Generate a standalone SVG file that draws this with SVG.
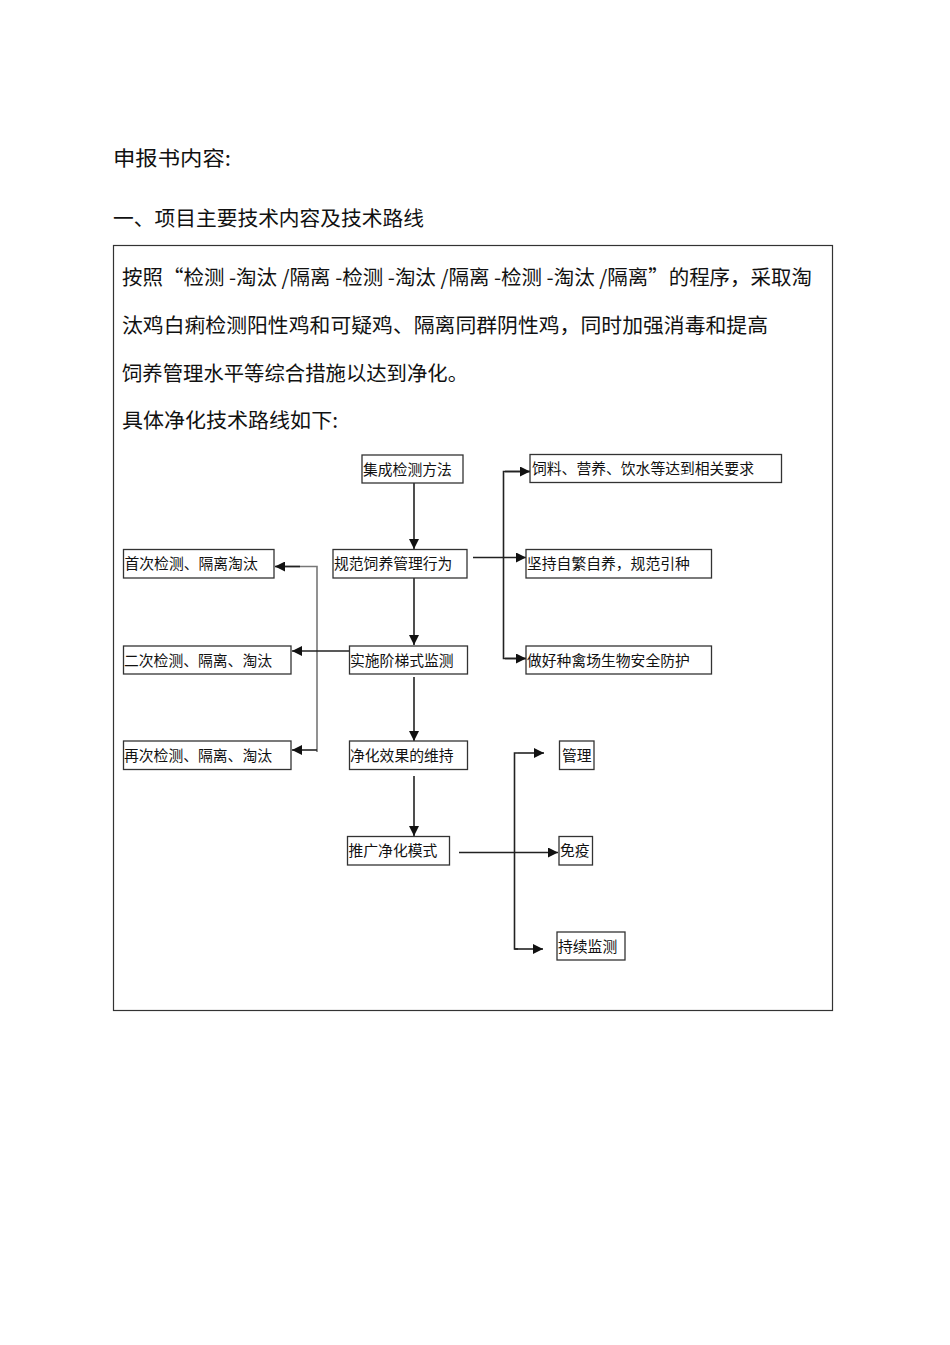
<svg xmlns="http://www.w3.org/2000/svg" width="950" height="1345" viewBox="0 0 950 1345">
<style>
.t{font-family:"Noto Sans CJK SC","Noto Sans",sans-serif;font-size:20.5px;fill:#111}
.b{font-family:"Noto Sans CJK SC","Noto Sans",sans-serif;font-size:14.8px;fill:#111}
.box{fill:#fff;stroke:#333;stroke-width:1.3}
.c{fill:none;stroke:#222;stroke-width:1.6}
.g{fill:none;stroke:#777;stroke-width:1.6}
</style>
<defs>
<marker id="ah" viewBox="0 0 10 10" refX="10" refY="5" markerUnits="userSpaceOnUse" markerWidth="10" markerHeight="10" orient="auto">
<path d="M0,0 L10,5 L0,10 z" fill="#111"/>
</marker>
</defs>
<rect width="950" height="1345" fill="#fff"/>
<g id="header">
<text class="t" x="113" y="166" textLength="118" lengthAdjust="spacingAndGlyphs">申报书内容:</text>
<text class="t" x="113" y="226" textLength="311" lengthAdjust="spacingAndGlyphs">一、项目主要技术内容及技术路线</text>
</g>
<rect id="frame" x="113.5" y="245.5" width="719" height="765" fill="none" stroke="#333" stroke-width="1.2"/>
<g id="paragraph">
<text class="t" x="122" y="285" textLength="690" lengthAdjust="spacingAndGlyphs">按照“检测 -淘汰 /隔离 -检测 -淘汰 /隔离 -检测 -淘汰 /隔离”的程序，采取淘</text>
<text class="t" x="122" y="333" textLength="646" lengthAdjust="spacingAndGlyphs">汰鸡白痢检测阳性鸡和可疑鸡、隔离同群阴性鸡，同时加强消毒和提高</text>
<text class="t" x="122" y="381" textLength="346" lengthAdjust="spacingAndGlyphs">饲养管理水平等综合措施以达到净化。</text>
<text class="t" x="122" y="428" textLength="216" lengthAdjust="spacingAndGlyphs">具体净化技术路线如下:</text>
</g>
<g id="connectors">
<line class="c" x1="414" y1="482" x2="414" y2="549" marker-end="url(#ah)"/>
<line class="c" x1="414" y1="578" x2="414" y2="645" marker-end="url(#ah)"/>
<line class="c" x1="414" y1="677" x2="414" y2="741" marker-end="url(#ah)"/>
<line class="c" x1="414" y1="776" x2="414" y2="836" marker-end="url(#ah)"/>
<polyline class="g" points="317,752 317,566.5 276,566.5"/>
<line class="c" x1="300" y1="566.5" x2="275" y2="566.5" marker-end="url(#ah)"/>
<line class="c" x1="349" y1="651" x2="292" y2="651" marker-end="url(#ah)"/>
<line class="c" x1="317" y1="750" x2="292" y2="750" marker-end="url(#ah)"/>
<line class="c" x1="473" y1="557.5" x2="526" y2="557.5" marker-end="url(#ah)"/>
<polyline class="c" points="530,471.5 503.5,471.5 503.5,658.5 526,658.5"/>
<line class="c" x1="505" y1="471.5" x2="530" y2="471.5" marker-end="url(#ah)"/>
<line class="c" x1="505" y1="658.5" x2="526" y2="658.5" marker-end="url(#ah)"/>
<line class="c" x1="459" y1="852.5" x2="558" y2="852.5" marker-end="url(#ah)"/>
<polyline class="c" points="518,753 514.5,753 514.5,949 518,949"/>
<line class="c" x1="518" y1="753" x2="544" y2="753" marker-end="url(#ah)"/>
<line class="c" x1="514.5" y1="949" x2="543" y2="949" marker-end="url(#ah)"/>
</g>
<g id="n1"><rect class="box" x="362" y="455" width="101" height="28"/><text class="b" x="363" y="474.5">集成检测方法</text></g>
<g id="n2"><rect class="box" x="333" y="549.5" width="134" height="28.5"/><text class="b" x="334" y="569">规范饲养管理行为</text></g>
<g id="n3"><rect class="box" x="123.5" y="549.5" width="150.5" height="28.5"/><text class="b" x="124.5" y="569">首次检测、隔离淘汰</text></g>
<g id="n4"><rect class="box" x="530" y="454.5" width="251.5" height="28"/><text class="b" x="532" y="474">饲料、营养、饮水等达到相关要求</text></g>
<g id="n5"><rect class="box" x="526" y="549.5" width="185.5" height="28.5"/><text class="b" x="527" y="569">坚持自繁自养，规范引种</text></g>
<g id="n6"><rect class="box" x="526" y="646" width="185.5" height="28"/><text class="b" x="527" y="665.5">做好种禽场生物安全防护</text></g>
<g id="n7"><rect class="box" x="349.5" y="646" width="118" height="28"/><text class="b" x="350" y="665.5">实施阶梯式监测</text></g>
<g id="n8"><rect class="box" x="123.5" y="646" width="167.5" height="28"/><text class="b" x="124" y="665.5">二次检测、隔离、淘汰</text></g>
<g id="n9"><rect class="box" x="123.5" y="741" width="167.5" height="28.5"/><text class="b" x="124" y="761">再次检测、隔离、淘汰</text></g>
<g id="n10"><rect class="box" x="349.5" y="741" width="118" height="28.5"/><text class="b" x="350" y="761">净化效果的维持</text></g>
<g id="n11"><rect class="box" x="347.5" y="836.5" width="102" height="28.5"/><text class="b" x="348.5" y="856">推广净化模式</text></g>
<g id="n12"><rect class="box" x="559.5" y="741" width="34.5" height="28.5"/><text class="b" x="562" y="761">管理</text></g>
<g id="n13"><rect class="box" x="559" y="836.5" width="33.5" height="28.5"/><text class="b" x="560" y="856">免疫</text></g>
<g id="n14"><rect class="box" x="557" y="932" width="68" height="28"/><text class="b" x="558" y="951.5">持续监测</text></g>
</svg>
